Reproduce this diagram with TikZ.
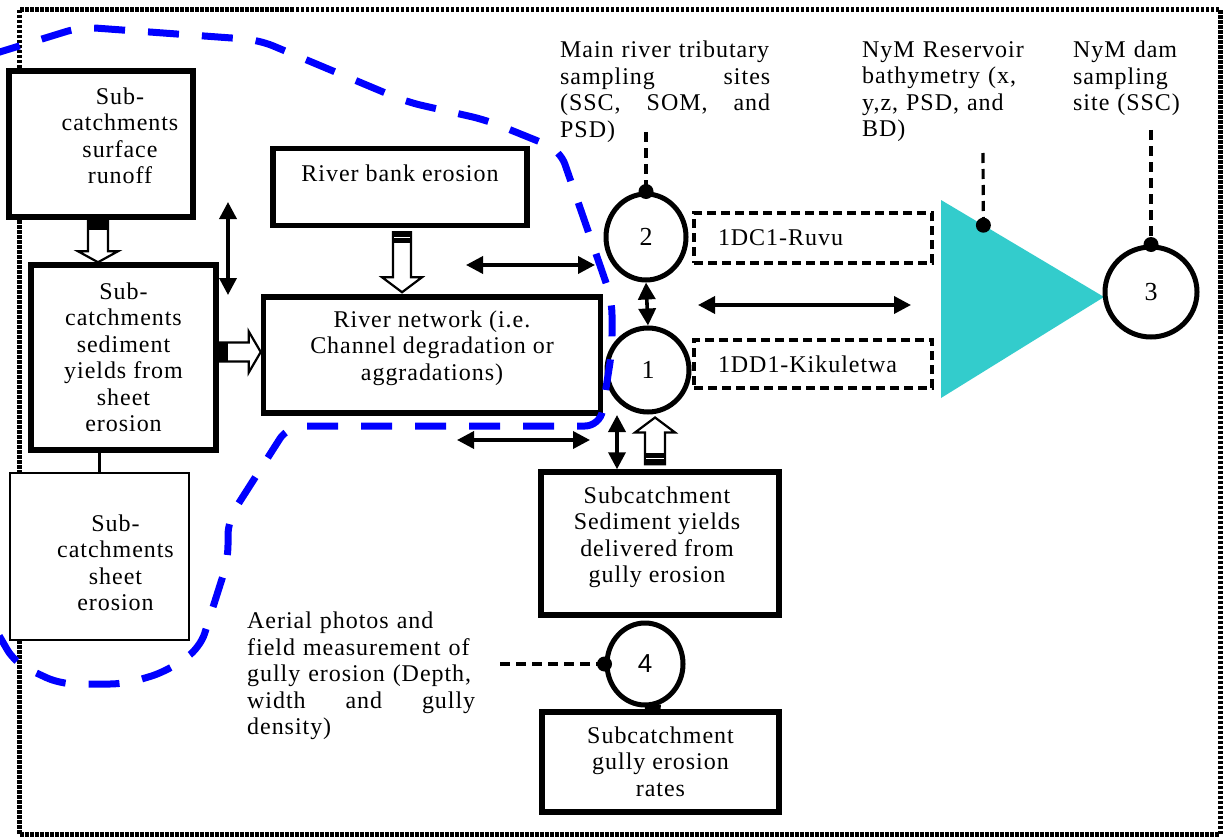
\documentclass[tikz,border=0pt]{standalone}
\usepackage{fontspec}
\setmainfont{Liberation Serif}[LetterSpace=4]
\setsansfont{Liberation Sans}
\usetikzlibrary{arrows.meta,calc,shapes.geometric}
\definecolor{teal1}{RGB}{51,204,204}
\definecolor{blue1}{RGB}{0,0,255}
\newcommand{\bt}[4]{\hspace*{#1}\raisebox{#2}[0pt][0pt]{\parbox{#3}{\centering #4}}}
\begin{document}
\begin{tikzpicture}[x=1pt,y=-1pt,
  txt/.style={font=\fontsize{24}{26.5}\selectfont},
  box/.style={draw, line width=5.5pt, fill=white, inner sep=0pt, txt},
  thinbox/.style={draw, line width=2.2pt, fill=white, inner sep=0pt, txt},
  circ/.style={draw, ellipse, line width=5pt, fill=white, inner sep=0pt, font=\fontsize{26}{28}\selectfont},
  dbox/.style={draw, dash pattern=on 9pt off 5pt, line width=3.2pt, fill=white, inner sep=0pt, txt},
  lbl/.style={inner sep=0pt, align=left, anchor=north west, txt},
  dbl/.style={line width=3.6pt, {Triangle[length=17pt,width=17pt]}-{Triangle[length=17pt,width=17pt]}},
  hollow/.style={draw, line width=2.2pt, fill=white},
  dline/.style={line width=3.2pt, dash pattern=on 10pt off 6pt},
  dot/.style={circle, fill, inner sep=0pt, minimum size=15pt},
  frame/.style={line width=5pt, dash pattern=on 3.5pt off 1.5pt},
  blueline/.style={draw=blue1, line width=7pt, dash pattern=on 31pt off 23pt, rounded corners=15pt}
]
\useasboundingbox (0,0) rectangle (1228,840);
\fill[white] (0,0) rectangle (1228,840);

% outer dotted frame
\draw[frame] (19,10) rectangle (1220,834);

% boxes
\node[box, minimum width=184pt, minimum height=146pt] (A) at (101,144)
  {\bt{38pt}{2pt}{130pt}{Sub-\\catchments\\surface\\runoff}};
\node[box, minimum width=185pt, minimum height=185pt] (B) at (123.5,357.5)
  {\bt{0pt}{-6pt}{170pt}{Sub-\\catchments\\sediment\\yields from\\sheet\\erosion}};
\node[thinbox, minimum width=179pt, minimum height=167pt] (C) at (99.5,556.5)
  {\bt{32pt}{-12.5pt}{130pt}{Sub-\\catchments\\sheet\\erosion}};
\node[box, minimum width=254pt, minimum height=77pt] (D) at (400,187)
  {\bt{0pt}{7pt}{240pt}{River bank erosion}};
\node[box, minimum width=337pt, minimum height=116pt] (E) at (432,355)
  {\bt{0pt}{1pt}{320pt}{River network (i.e.\\Channel degradation or\\aggradations)}};
\node[box, minimum width=238pt, minimum height=143pt] (F) at (660,543.5)
  {\bt{-6pt}{0pt}{220pt}{Subcatchment\\Sediment yields\\delivered from\\gully erosion}};
\node[box, minimum width=237pt, minimum height=100pt] (G) at (660.5,762)
  {\bt{0pt}{-6pt}{220pt}{Subcatchment\\gully erosion\\rates}};

% dashed site boxes
\node[dbox, minimum width=238pt, minimum height=50pt] (R) at (813,238)
  {\makebox[190pt][l]{1DC1-Ruvu}};
\node[dbox, minimum width=238pt, minimum height=48pt] (K) at (813,364)
  {\makebox[190pt][l]{1DD1-Kikuletwa}};

% reservoir triangle
\coordinate (T1) at (941,200);
\coordinate (T2) at (941,398);
\coordinate (T3) at (1104,297);
\fill[teal1] (T1) -- (T2) -- (T3) -- cycle;

% sampling circles
\node[circ, minimum width=80pt, minimum height=86pt] (C2) at (646,237) {2};
\node[circ, minimum width=82pt, minimum height=84pt] (C1) at (648,370) {1};
\node[circ, minimum width=92pt, minimum height=90pt] (C3) at (1151,292) {3};
\node[circ, minimum width=76pt, minimum height=82pt] (C4) at (645,664) {\sffamily 4};

% labels
\node[lbl, text width=210pt] (L1) at (560,41)
  {Main river tributary\\sampling\hfill sites\\(SSC,\hfill SOM,\hfill and\\PSD)};
\node[lbl, text width=170pt] (L2) at (862,41)
  {NyM Reservoir\\bathymetry (x,\\y,z, PSD, and\\BD)};
\node[lbl, text width=140pt] (L3) at (1073,41)
  {NyM dam\\sampling\\site (SSC)};
\node[lbl, text width=228pt] (L4) at (247,612)
  {Aerial photos and\\field measurement of\\gully erosion (Depth,\\width\hfill and\hfill gully\\density)};

% plain connectors
\draw[line width=3pt] (B.south -| C.north) -- (C.north);
\draw[line width=9pt] (C4.south) -- (G.north);

% double arrows
\coordinate (v1a) at (228,202);
\coordinate (v1b) at (228,295);
\draw[dbl] (v1a) -- (v1b);
\coordinate (h1a) at (466,265);
\coordinate (h1b) at (595,265);
\draw[dbl] (h1a) -- (h1b);
\draw[dbl] (C2.south) -- (C1.north);
\coordinate (h2a) at (698,305);
\coordinate (h2b) at (911,305);
\draw[dbl] (h2a) -- (h2b);
\coordinate (h3a) at (457,440);
\coordinate (h3b) at (590,440);
\draw[dbl] (h3a) -- (h3b);
\coordinate (v3a) at (617,415);
\draw[dbl] (v3a) -- (v3a |- F.north);

% hollow block arrows
% A -> B
\draw[hollow] let \p1=(A.south), \p2=(B.north) in
  (\x1-13pt,\y1) -- (\x1-13pt,\y2+11pt) -- (\x1-23pt,\y2+11pt) -- (\x1-3pt,\y2)
  -- (\x1+17pt,\y2+11pt) -- (\x1+7pt,\y2+11pt) -- (\x1+7pt,\y1) -- cycle;
\fill let \p1=(A.south) in (\x1-13pt,\y1) rectangle (\x1+7pt,\y1-10pt);
% D -> E
\draw[hollow] let \p1=(D.south), \p2=(E.north) in
  (\x1-7pt,\y1-4pt) -- (\x1-7pt,\y2+17pt) -- (\x1-18pt,\y2+17pt) -- (\x1+2pt,\y2+2pt)
  -- (\x1+22pt,\y2+17pt) -- (\x1+11pt,\y2+17pt) -- (\x1+11pt,\y1-4pt) -- cycle;
\fill let \p1=(D.south) in (\x1-7pt,\y1-4pt) rectangle (\x1+11pt,\y1-15pt);
\draw[white, line width=1.2pt] let \p1=(D.south) in (\x1-6pt,\y1-9pt) -- (\x1+10pt,\y1-9pt);
% B -> E
\draw[hollow] let \p1=(B.east), \p2=(E.west) in
  (\x1,\y1+15pt) -- (\x2-12pt,\y1+15pt) -- (\x2-12pt,\y1+26pt) -- (\x2,\y1+5.5pt)
  -- (\x2-12pt,\y1-15pt) -- (\x2-12pt,\y1-4pt) -- (\x1,\y1-4pt) -- cycle;
\fill let \p1=(B.east) in (\x1,\y1+15pt) rectangle (\x1+9pt,\y1-4pt);
% F -> C1
\draw[hollow] let \p1=(F.north), \p2=(C1.south) in
  (\x1-15pt,\y1+5pt) -- (\x1-15pt,\y2-18pt) -- (\x1-25pt,\y2-18pt) -- (\x1-5pt,\y2-3pt)
  -- (\x1+15pt,\y2-18pt) -- (\x1+5pt,\y2-18pt) -- (\x1+5pt,\y1+5pt) -- cycle;
\fill let \p1=(F.north) in (\x1-15pt,\y1+5pt) rectangle (\x1+5pt,\y1+16pt);
\draw[white, line width=1.2pt] let \p1=(F.north) in (\x1-14pt,\y1+11pt) -- (\x1+4pt,\y1+11pt);

% dashed pointer lines with dots
\coordinate (k1) at (646,132);
\draw[dline] (k1) -- (C2.north);
\node[dot] (d1) at (C2.north) {};
\coordinate (k2) at (983,153);
\coordinate (tdot) at ($(T1)!0.26!(T3)$);
\draw[dline] (k2) -- (tdot);
\node[dot] (d2) at (tdot) {};
\coordinate (k3) at (1151,130);
\draw[dline] (k3) -- (C3.north);
\node[dot] (d3) at (C3.north) {};
\coordinate (k4) at (500,664);
\draw[dline] (k4) -- (C4.west);
\node[dot] (d4) at (C4.west) {};

% blue dashed boundary
\draw[blueline] (-10,55) -- (81,27) -- (259,40) -- (407,102) -- (486,120) -- (560,150)
  -- (612,300) -- (612,350) -- (600,426) -- (288,426) -- (228,520) -- (228,560)
  -- (200,648) -- (165,672) -- (125,684) -- (60,684) -- (15,663) -- (-10,620);
\end{tikzpicture}
\end{document}
